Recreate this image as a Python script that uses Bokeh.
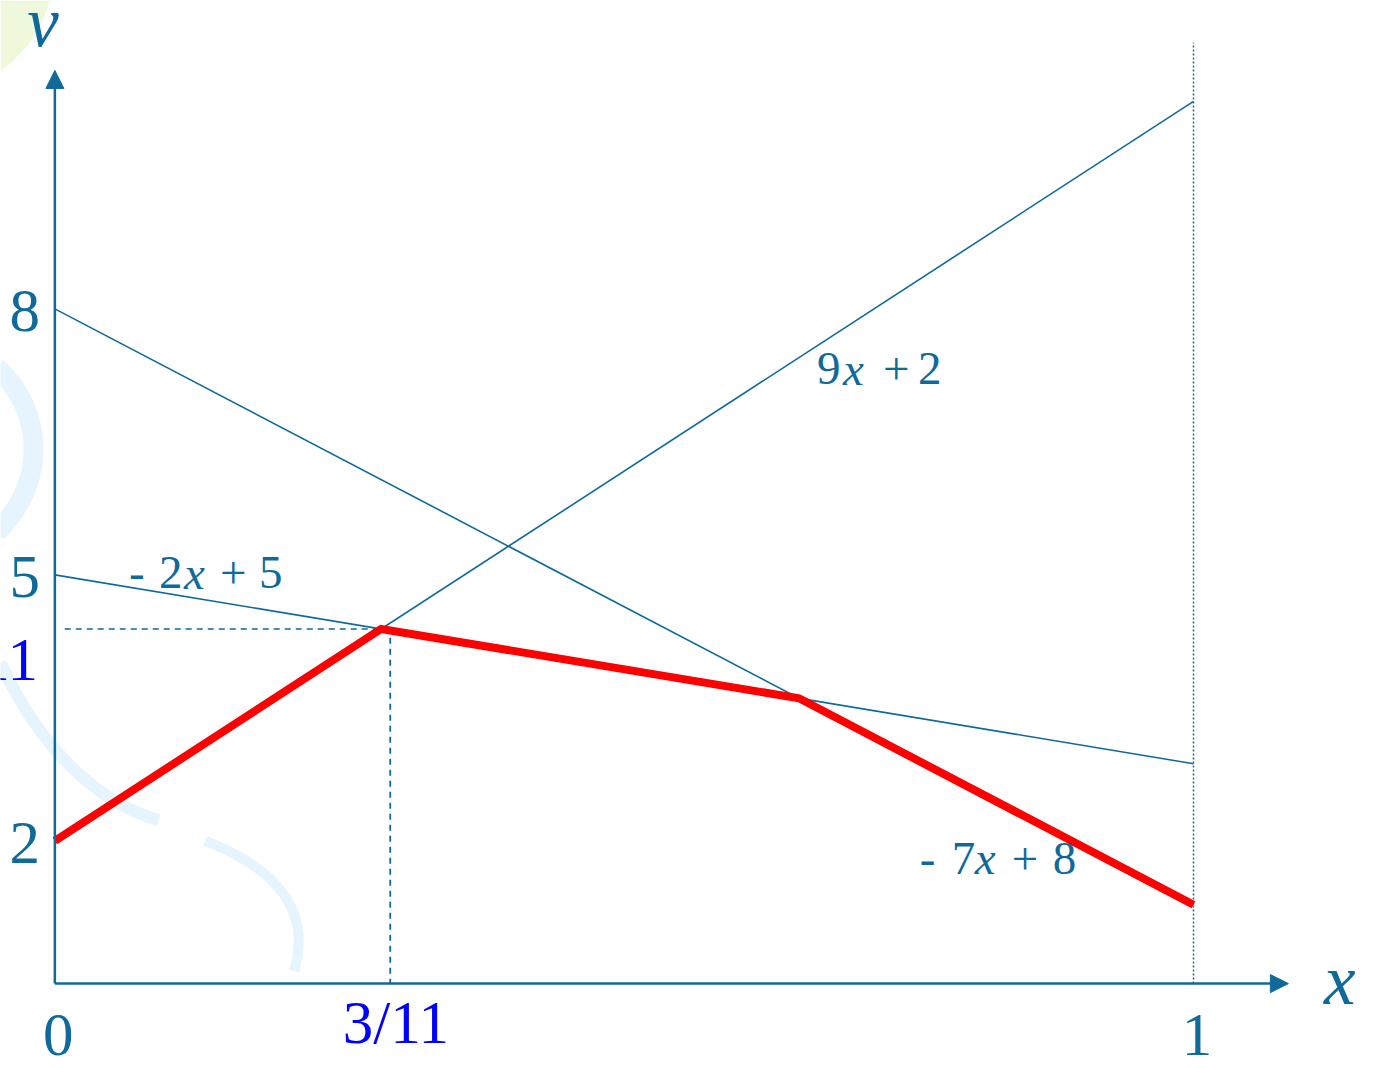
from bokeh.plotting import figure
from bokeh.models import Range1d, Arrow, NormalHead
from bokeh.core.properties import value
from bokeh.embed import file_html
from bokeh.resources import INLINE

# ---------------- data (as drawn in the picture) ----------------
x_ends = [0.0, 1.0]
line_names = ["9x + 2", "- 2x + 5", "- 7x + 8"]
line_start = [2.0, 5.0, 8.0]      # value at x = 0
line_end = [10.34, 2.87, 1.28]    # value at x = 1 (as drawn)
y_ticks = [8, 5, 2]
y_tick_labels = ["8", "5", "2"]
x_tick_vals = [0, 1]
x_tick_labels = ["0", "1"]
x_axis_level = 0.39               # where the horizontal axis sits
top_value = 11.0                  # top of the dotted line at x = 1

BLUE = "#0f6a99"
RED = "#ff0000"
PURE = "#0000ff"
FONT = "Liberation Serif"

W, H = 1363, 1064
RW, RH = 1379, 1080
BASE = 0.37   # svg baseline correction (in em)


# layout helpers: reference pixel -> data coordinate
def dx(px):
    return (px - 55) / 1152.0


def dy(py):
    return 2 + (853 - py) / 90.0


def base(fs):
    # data-unit shift that puts the alphabetic baseline where intended
    return BASE * fs / 90.0


p = figure(width=W, height=H, output_backend="svg", toolbar_location=None,
           x_range=Range1d(dx(0), dx(RW)), y_range=Range1d(dy(RH), dy(0)),
           min_border=0, outline_line_color=None)
p.axis.visible = False
p.grid.visible = False
p.background_fill_color = "white"
p.border_fill_color = "white"

# ---------------- faint template decoration ----------------
DEC = "#e6f4fd"
p.patch([dx(v) for v in [0, 50, 42, 28, 12, 0]],
        [dy(v) for v in [0, 0, 22, 45, 62, 72]],
        fill_color="#eef8da", line_color=None)
p.bezier(x0=[dx(-4)], y0=[dy(372)], x1=[dx(-4)], y1=[dy(540)],
         cx0=[dx(46)], cy0=[dy(420)], cx1=[dx(46)], cy1=[dy(490)],
         line_color=DEC, line_width=20)
p.bezier(x0=[dx(0)], y0=[dy(672)], x1=[dx(160)], y1=[dy(832)],
         cx0=[dx(40)], cy0=[dy(760)], cx1=[dx(100)], cy1=[dy(815)],
         line_color=DEC, line_width=12)
p.bezier(x0=[dx(207)], y0=[dy(853)], x1=[dx(297)], y1=[dy(985)],
         cx0=[dx(265)], cy0=[dy(875)], cx1=[dx(318)], cy1=[dy(915)],
         line_color=DEC, line_width=10)

# ---------------- derived envelope (lower envelope of the lines) ----------------
slopes = [e - s for s, e in zip(line_start, line_end)]


def meet(i, j):
    xi = (line_start[j] - line_start[i]) / (slopes[i] - slopes[j])
    return xi, line_start[i] + slopes[i] * xi


k1x, k1y = meet(0, 1)
k2x, k2y = meet(1, 2)
env_x = [x_ends[0], k1x, k2x, x_ends[1]]
env_y = [line_start[0], k1y, line_start[1] + slopes[1] * k2x, line_end[2]]

# ---------------- guide lines ----------------
p.line([dx(65), k1x], [k1y, k1y], line_color=BLUE, line_width=1.5, line_dash="6 5")
p.line([k1x + 0.008, k1x + 0.008], [k1y - 0.1, x_axis_level], line_color=BLUE,
       line_width=1.8, line_dash="6 5")
p.line([x_ends[1], x_ends[1]], [x_axis_level, top_value], line_color=BLUE,
       line_width=1.5, line_dash="2 2")

# ---------------- the three lines ----------------
for s, e in zip(line_start, line_end):
    p.line(x_ends, [s, e], line_color=BLUE, line_width=1.6)

p.line(env_x, env_y, line_color=RED, line_width=8, line_join="miter")

# ---------------- axes ----------------
p.add_layout(Arrow(end=NormalHead(size=18, fill_color=BLUE, line_color=BLUE),
                   x_start=0, y_start=x_axis_level, x_end=0, y_end=dy(71),
                   line_color=BLUE, line_width=2.5))
p.add_layout(Arrow(end=NormalHead(size=18, fill_color=BLUE, line_color=BLUE),
                   x_start=0, y_start=x_axis_level, x_end=dx(1303), y_end=x_axis_level,
                   line_color=BLUE, line_width=2.5))

# axis titles
p.text(x=[dx(43)], y=[dy(48) + base(71)], text=["v"], text_font=value(FONT),
       text_font_style="italic", text_font_size="71px", text_color=BLUE,
       text_align="center", text_baseline="alphabetic")
p.text(x=[dx(1355)], y=[dy(1020) + base(71)], text=["x"], text_font=value(FONT),
       text_font_style="italic", text_font_size="71px", text_color=BLUE,
       text_align="center", text_baseline="alphabetic")

# tick labels
p.text(x=[dx(40)] * 3, y=[t - 0.27 + base(61) for t in y_ticks], text=y_tick_labels,
       text_font=value(FONT), text_font_size="61px", text_color=BLUE,
       text_align="right", text_baseline="alphabetic")
p.text(x=[dx(38)], y=[k1y - 0.6 + base(61)], text=["49/11"], text_font=value(FONT),
       text_font_size="61px", text_color=PURE, text_align="right",
       text_baseline="alphabetic")
p.text(x=[v + 0.003 for v in x_tick_vals], y=[dy(1073) + base(61)] * 2, text=x_tick_labels,
       text_font=value(FONT), text_font_size="61px", text_color=BLUE,
       text_align="center", text_baseline="alphabetic")
p.text(x=[k1x + 0.013], y=[dy(1060) + base(61)], text=["3/11"], text_font=value(FONT),
       text_font_size="61px", text_color=PURE, text_align="center",
       text_baseline="alphabetic")


# line labels with italic x, pieces placed by pixel offset
def eq_label(px, py, pieces):
    for txt, italic, off in pieces:
        p.text(x=[dx(px)], y=[dy(py) + base(47)], text=[txt], x_offset=off,
               text_font=value(FONT), text_font_size="47px",
               text_font_style="italic" if italic else "normal",
               text_color=BLUE, text_align="left", text_baseline="alphabetic")


eq_label(826, 391, [("9", False, 0), ("x", True, 26), ("+", False, 66), ("2", False, 101)])
eq_label(130, 598, [("-", False, 0), ("2", False, 30), ("x", True, 55), ("+", False, 91),
                    ("5", False, 130)])
eq_label(930, 888, [("-", False, 0), ("7", False, 32), ("x", True, 55), ("+", False, 92),
                    ("8", False, 133)])

open("out.html", "w").write(file_html(p, INLINE))
